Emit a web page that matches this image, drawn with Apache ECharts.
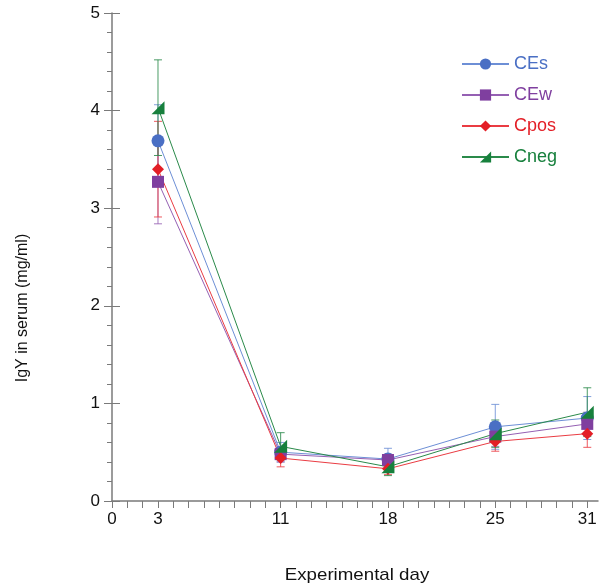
<!DOCTYPE html>
<html>
<head>
<meta charset="utf-8">
<script src="https://cdn.jsdelivr.net/npm/echarts@6/dist/echarts.min.js"></script>
<style>
  html, body { margin: 0; padding: 0; background: #fff; }
  #chart { width: 605px; height: 586px; }
</style>
</head>
<body>
<div id="chart"></div>
<script>
// Sampling days and the days that carry an axis label
const days = [3, 11, 18, 25, 31];
const labelDays = [0, 3, 11, 18, 25, 31];

// Mean serum IgY (mg/ml) per group
const cesMean  = [3.69, 0.50, 0.43, 0.76, 0.85];
const cewMean  = [3.27, 0.48, 0.42, 0.66, 0.79];
const cposMean = [3.40, 0.44, 0.33, 0.61, 0.69];
const cnegMean = [4.03, 0.56, 0.35, 0.69, 0.91];

// Standard deviations per group
const cesSd  = [0.37, 0.10, 0.11, 0.23, 0.22];
const cewSd  = [0.43, 0.08, 0.06, 0.10, 0.12];
const cposSd = [0.49, 0.09, 0.06, 0.10, 0.14];
const cnegSd = [0.49, 0.14, 0.09, 0.14, 0.25];

const groups = [
  { name: 'CEs',  mean: cesMean,  sd: cesSd,  color: '#4a6fc4', line: '#6d8fd6', symbol: 'circle',  size: 13 },
  { name: 'CEw',  mean: cewMean,  sd: cewSd,  color: '#7f3f9f', line: '#9560b3', symbol: 'rect',    size: 12 },
  { name: 'Cpos', mean: cposMean, sd: cposSd, color: '#e31e26', line: '#ea3c43', symbol: 'diamond', size: 12 },
  { name: 'Cneg', mean: cnegMean, sd: cnegSd, color: '#17803d', line: '#2a8a4a', symbol: 'path://M0,10L10,0L10,10Z', size: 13 }
];

const FONT = '"Liberation Sans", Arial, Helvetica, sans-serif';

const series = [];
groups.forEach(function (g) {
  // error bars: vertical whisker with caps
  series.push({
    type: 'custom',
    name: g.name + ' sd',
    z: 1,
    silent: true,
    data: days.map(function (d, i) { return [d, g.mean[i] - g.sd[i], g.mean[i] + g.sd[i]]; }),
    encode: { x: 0, y: [1, 2] },
    renderItem: function (params, api) {
      const lo = api.coord([api.value(0), api.value(1)]);
      const hi = api.coord([api.value(0), api.value(2)]);
      const w = 4;
      const style = { stroke: g.line, lineWidth: 1, opacity: 0.85 };
      return {
        type: 'group',
        children: [
          { type: 'line', shape: { x1: lo[0], y1: lo[1], x2: hi[0], y2: hi[1] }, style: style },
          { type: 'line', shape: { x1: lo[0] - w, y1: lo[1], x2: lo[0] + w, y2: lo[1] }, style: style },
          { type: 'line', shape: { x1: hi[0] - w, y1: hi[1], x2: hi[0] + w, y2: hi[1] }, style: style }
        ]
      };
    }
  });
  series.push({
    type: 'line',
    name: g.name,
    z: 3,
    data: days.map(function (d, i) { return [d, g.mean[i]]; }),
    symbol: g.symbol,
    symbolSize: g.size,
    showAllSymbol: true,
    itemStyle: { color: g.color },
    lineStyle: { color: g.line, width: 1 }
  });
});

const axisGray = '#7a7a7a';

const option = {
  animation: false,
  backgroundColor: '#fff',
  grid: { left: 112, top: 13, right: 7, bottom: 85, containLabel: false },
  legend: {
    left: 456,
    top: 50,
    orient: 'vertical',
    itemWidth: 47,
    itemHeight: 14,
    itemGap: 13,
    selectedMode: false,
    textStyle: { fontFamily: FONT, fontSize: 18 },
    data: groups.map(function (g) {
      return { name: g.name, textStyle: { color: g.color } };
    })
  },
  xAxis: {
    type: 'value',
    min: 0,
    max: 31.7,
    interval: 1,
    splitLine: { show: false },
    axisLine: { lineStyle: { color: axisGray, width: 1.5 } },
    axisTick: { length: 7, lineStyle: { color: axisGray, width: 1 } },
    axisLabel: {
      margin: 10,
      color: '#111',
      fontFamily: FONT,
      fontSize: 17,
      showMaxLabel: false,
      formatter: function (v) { return labelDays.indexOf(v) >= 0 ? String(v) : ''; }
    }
  },
  yAxis: [
    {
      type: 'value',
      min: 0,
      max: 5,
      interval: 1,
      splitLine: { show: false },
      axisLine: { show: true, lineStyle: { color: axisGray, width: 1.5 } },
      axisTick: { show: true, length: 8, lineStyle: { color: axisGray, width: 1 } },
      minorTick: { show: true, splitNumber: 5, length: 5, lineStyle: { color: axisGray, width: 1 } },
      minorSplitLine: { show: false },
      axisLabel: { margin: 12, color: '#111', fontFamily: FONT, fontSize: 17 }
    },
    {
      // inner half of the major ticks, so they cross the axis line
      type: 'value',
      position: 'left',
      min: 0,
      max: 5,
      interval: 1,
      splitLine: { show: false },
      axisLine: { show: false },
      axisTick: { show: true, inside: true, length: 8, lineStyle: { color: axisGray, width: 1 } },
      axisLabel: { show: false }
    }
  ],
  graphic: [
    {
      type: 'text',
      x: 23,
      y: 308,
      rotation: Math.PI / 2,
      style: {
        text: 'IgY in serum (mg/ml)',
        fontFamily: FONT,
        fontSize: 16,
        fill: '#111',
        align: 'center',
        verticalAlign: 'middle'
      }
    },
    {
      type: 'text',
      x: 357,
      y: 575,
      scaleX: 1.1,
      style: {
        text: 'Experimental day',
        fontFamily: FONT,
        fontSize: 17,
        fill: '#111',
        align: 'center',
        verticalAlign: 'middle'
      }
    }
  ],
  series: series
};

const chart = echarts.init(document.getElementById('chart'), null, { renderer: 'canvas' });
chart.setOption(option);
</script>
</body>
</html>
